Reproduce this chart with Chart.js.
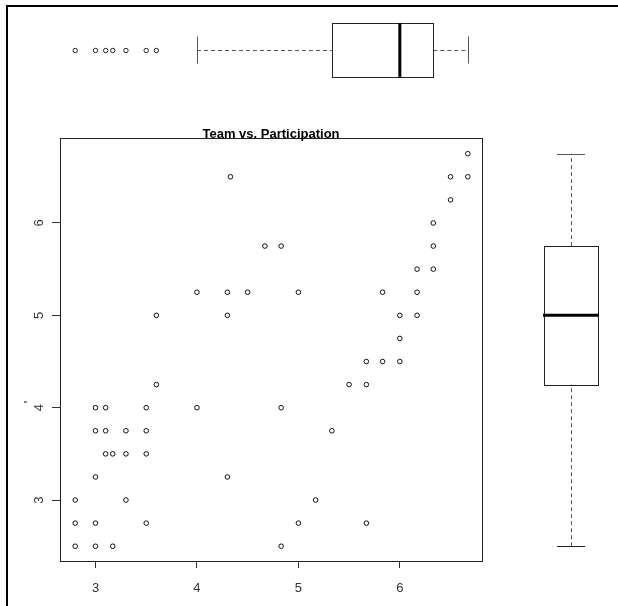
<!DOCTYPE html>
<html>
<head>
<meta charset="utf-8">
<script src="https://cdn.jsdelivr.net/npm/chart.js@4.4.1/dist/chart.umd.min.js"></script>
<style>
  html, body { margin: 0; padding: 0; background: #fff; }
  #wrap { position: relative; width: 618px; height: 606px; }
  canvas { display: block; }
</style>
</head>
<body>
<div id="wrap"><canvas id="c" width="618" height="606"></canvas></div>
<script>
// Team score (x) against participation score (y)
const teamX = [
  2.8, 2.8, 2.8, 3.0, 3.0, 3.17, 3.0, 3.3, 3.0, 3.1, 3.3, 3.5, 3.0, 3.1,
  3.5, 3.1, 3.17, 3.3, 3.5, 3.5, 3.6, 3.6, 4.0, 4.3, 4.83, 4.3, 4.83, 5.0,
  5.17, 5.33, 5.5, 5.67, 5.67, 5.67, 5.83, 6.0, 6.0, 6.67, 6.5, 6.67, 6.5,
  6.33, 6.33, 6.33, 6.17, 6.17, 5.83, 6.0, 6.17, 4.33, 4.67, 4.83, 4.0,
  4.3, 4.5, 5.0
];
const partY = [
  3.0, 2.75, 2.5, 2.75, 2.5, 2.5, 3.25, 3.0, 3.75, 3.75, 3.75, 3.75, 4.0, 4.0,
  4.0, 3.5, 3.5, 3.5, 3.5, 2.75, 4.25, 5.0, 4.0, 5.0, 4.0, 3.25, 2.5, 2.75,
  3.0, 3.75, 4.25, 4.25, 4.5, 2.75, 4.5, 4.75, 4.5, 6.75, 6.5, 6.5, 6.25,
  6.0, 5.75, 5.5, 5.5, 5.25, 5.25, 5.0, 5.0, 6.5, 5.75, 5.75, 5.25,
  5.25, 5.25, 5.25
];

const xTicks = [3, 4, 5, 6];
const yTicks = [3, 4, 5, 6];

// Marginal boxplots: [lower whisker, Q1, median, Q3, upper whisker]
const xBoxStats = [4.0, 5.33, 6.0, 6.33, 6.67];
const xOutliers = [2.8, 3.0, 3.1, 3.17, 3.3, 3.5, 3.6];
const yBoxStats = [2.5, 4.25, 5.0, 5.75, 6.75];

const chartTitle = 'Team vs. Participation';
const yAxisTitle = "'";

const FONT = '"Liberation Sans", Arial, Helvetica, sans-serif';

function dashedLine(ctx, x1, y1, x2, y2) {
  ctx.save();
  ctx.setLineDash([4, 3]);
  ctx.strokeStyle = '#555';
  ctx.lineWidth = 1;
  ctx.beginPath();
  ctx.moveTo(x1, y1);
  ctx.lineTo(x2, y2);
  ctx.stroke();
  ctx.restore();
}

function solidLine(ctx, x1, y1, x2, y2, w, color) {
  ctx.save();
  ctx.strokeStyle = color;
  ctx.lineWidth = w;
  ctx.beginPath();
  ctx.moveTo(x1, y1);
  ctx.lineTo(x2, y2);
  ctx.stroke();
  ctx.restore();
}

const decor = {
  id: 'decor',
  beforeDraw(chart) {
    const ctx = chart.ctx;
    ctx.save();
    ctx.fillStyle = '#fff';
    ctx.fillRect(0, 0, chart.width, chart.height);
    // page frame (left and top edges)
    ctx.fillStyle = '#000';
    ctx.fillRect(6, 5, 2, chart.height - 5);
    ctx.fillRect(6, 5, chart.width - 6, 2);
    ctx.restore();
  },
  afterDraw(chart) {
    const ctx = chart.ctx;
    const a = chart.chartArea;
    const xs = chart.scales.x;
    const ys = chart.scales.y;

    ctx.save();
    // plot box
    ctx.strokeStyle = '#222';
    ctx.lineWidth = 1;
    ctx.strokeRect(Math.round(a.left) + 0.5, Math.round(a.top) + 0.5,
                   Math.round(a.right - a.left), Math.round(a.bottom - a.top));

    // y tick labels, rotated like the base-graphics default
    ctx.fillStyle = '#333';
    ctx.font = '13px ' + FONT;
    ctx.textAlign = 'center';
    ctx.textBaseline = 'middle';
    ys.ticks.forEach(t => {
      const py = ys.getPixelForValue(t.value);
      ctx.save();
      ctx.translate(39, py);
      ctx.rotate(-Math.PI / 2);
      ctx.fillText(String(t.value), 0, 0);
      ctx.restore();
    });

    // y axis title
    ctx.save();
    ctx.translate(29, 402);
    ctx.rotate(-Math.PI / 2);
    ctx.fillStyle = '#000';
    ctx.fillText(yAxisTitle, 0, 0);
    ctx.restore();

    // title
    ctx.fillStyle = '#000';
    ctx.font = 'bold 13px ' + FONT;
    ctx.textAlign = 'center';
    ctx.textBaseline = 'alphabetic';
    ctx.fillText(chartTitle, (a.left + a.right) / 2, 138);

    // top boxplot of team scores (horizontal, shares the x scale)
    const cy = 50, boxH = 27, capH = 13.5;
    const [xLo, xQ1, xMed, xQ3, xHi] = xBoxStats.map(v => xs.getPixelForValue(v));
    dashedLine(ctx, xLo, cy + 0.5, xQ1, cy + 0.5);
    dashedLine(ctx, xQ3, cy + 0.5, xHi, cy + 0.5);
    solidLine(ctx, Math.round(xLo) + 0.5, cy - capH, Math.round(xLo) + 0.5, cy + capH, 1, '#555');
    solidLine(ctx, Math.round(xHi) + 0.5, cy - capH, Math.round(xHi) + 0.5, cy + capH, 1, '#555');
    ctx.fillStyle = '#fff';
    ctx.strokeStyle = '#222';
    ctx.lineWidth = 1;
    ctx.strokeRect(Math.round(xQ1) + 0.5, cy - boxH + 0.5, Math.round(xQ3 - xQ1), boxH * 2);
    solidLine(ctx, xMed, cy - boxH, xMed, cy + boxH + 1, 3, '#000');
    ctx.strokeStyle = '#222';
    ctx.lineWidth = 1;
    xOutliers.forEach(v => {
      ctx.beginPath();
      ctx.arc(xs.getPixelForValue(v), cy + 0.5, 2.2, 0, Math.PI * 2);
      ctx.stroke();
    });

    // right boxplot of participation scores (vertical, shares the y scale)
    const cx = 571, boxW = 27, capW = 14;
    const [yLo, yQ1, yMed, yQ3, yHi] = yBoxStats.map(v => ys.getPixelForValue(v));
    dashedLine(ctx, cx + 0.5, yLo, cx + 0.5, yQ1);
    dashedLine(ctx, cx + 0.5, yQ3, cx + 0.5, yHi);
    solidLine(ctx, cx - capW, Math.round(yLo) + 0.5, cx + capW, Math.round(yLo) + 0.5, 1, '#222');
    solidLine(ctx, cx - capW, Math.round(yHi) + 0.5, cx + capW, Math.round(yHi) + 0.5, 1, '#555');
    ctx.strokeStyle = '#222';
    ctx.lineWidth = 1;
    ctx.strokeRect(cx - boxW + 0.5, Math.round(yQ3) + 0.5, boxW * 2, Math.round(yQ1 - yQ3));
    solidLine(ctx, cx - boxW - 1, yMed, cx + boxW + 1, yMed, 3, '#000');
    ctx.restore();
  }
};

const points = teamX.map((v, i) => ({ x: v, y: partY[i] }));

new Chart(document.getElementById('c'), {
  type: 'scatter',
  data: {
    datasets: [{
      data: points,
      pointStyle: 'circle',
      pointRadius: 2.3,
      pointHoverRadius: 2.3,
      pointBorderWidth: 1,
      pointBackgroundColor: '#fff',
      pointBorderColor: '#111'
    }]
  },
  options: {
    responsive: false,
    animation: false,
    devicePixelRatio: 1,
    events: [],
    layout: { padding: { left: 40, right: 136, top: 138, bottom: 10 } },
    plugins: { legend: { display: false }, tooltip: { enabled: false }, title: { display: false } },
    scales: {
      x: {
        type: 'linear',
        min: 2.65,
        max: 6.81,
        afterBuildTicks: s => { s.ticks = xTicks.map(v => ({ value: v })); },
        afterFit: s => { s.height = 35; },
        border: { display: false },
        grid: { display: true, drawOnChartArea: false, drawTicks: true, tickLength: 7, color: '#333', lineWidth: 1 },
        ticks: { color: '#333', font: { family: FONT, size: 13 }, padding: 13, maxRotation: 0, minRotation: 0 }
      },
      y: {
        type: 'linear',
        min: 2.34,
        max: 6.92,
        afterBuildTicks: s => { s.ticks = yTicks.map(v => ({ value: v })); },
        afterFit: s => { s.width = 20; },
        border: { display: false },
        grid: { display: true, drawOnChartArea: false, drawTicks: true, tickLength: 8, color: '#333', lineWidth: 1 },
        ticks: { display: false }
      }
    }
  },
  plugins: [decor]
});
</script>
</body>
</html>
